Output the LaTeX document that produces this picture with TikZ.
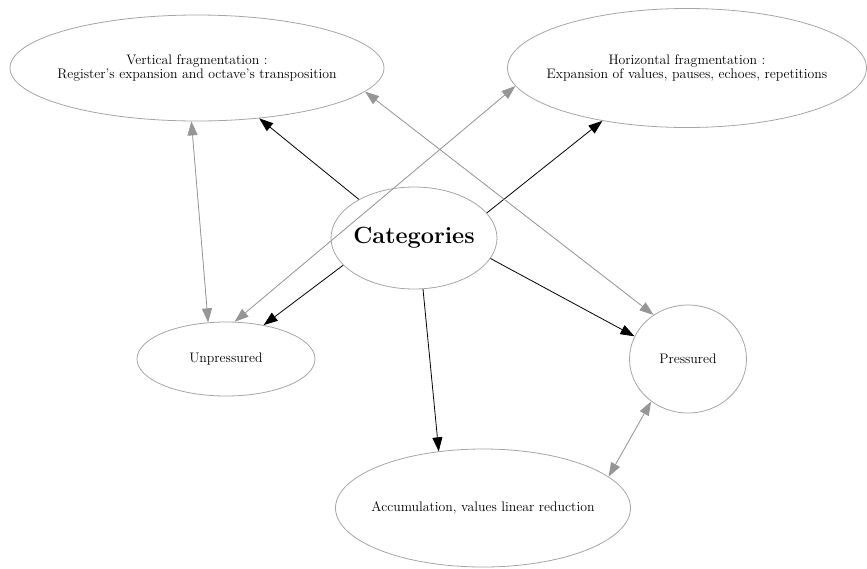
\documentclass[tikz,border=0pt]{standalone}
\usetikzlibrary{shapes.geometric,arrows.meta}
\definecolor{ringgray}{RGB}{165,165,165}
\definecolor{linkgray}{RGB}{150,150,150}
\begin{document}
\begin{tikzpicture}[x=1pt,y=-1pt,
  blob/.style={ellipse,draw=ringgray,line width=0.8pt,inner sep=0pt},
  txt/.style={align=center,inner sep=0pt,font=\fontsize{13.8}{14.5}\selectfont},
  mainarrow/.style={-{Triangle[length=14pt,width=10pt]},line width=0.8pt,black},
  twoway/.style={{Triangle[length=14pt,width=10pt]}-{Triangle[length=14pt,width=10pt]},line width=0.8pt,draw=linkgray,fill=linkgray}]
\useasboundingbox (0,0) rectangle (867,568);
\node[blob,minimum width=374pt,minimum height=106pt,
  label={[txt]center:Vertical fragmentation :\\Register's expansion and octave's transposition}] (vert) at (197,68) {};
\node[blob,minimum width=359pt,minimum height=119pt,
  label={[txt]center:Horizontal fragmentation :\\Expansion of values, pauses, echoes, repetitions}] (horiz) at (687,68) {};
\node[blob,minimum width=166pt,minimum height=102pt,
  label={[txt,font=\fontsize{23.5}{26}\selectfont\bfseries]center:Categories}] (cat) at (414,238) {};
\node[blob,minimum width=178pt,minimum height=74pt,
  label={[txt]center:Unpressured}] (unp) at (226,359) {};
\node[blob,minimum width=117pt,minimum height=108pt,
  label={[txt]center:Pressured}] (pres) at (688,359) {};
\node[blob,minimum width=295pt,minimum height=118pt,
  label={[txt]center:Accumulation, values linear reduction}] (acc) at (483,508) {};
% black arrows
\draw[mainarrow] (cat.145.9) -- (vert.-39.3);
\draw[mainarrow] (cat.19.5) -- (horiz.212.3);
\draw[mainarrow] (cat.201) -- (unp.42.7);
\draw[mainarrow] (cat.-15.6) -- (pres.157.4);
\draw[mainarrow] (cat.-80) -- (acc.128);
% gray two-way arrows
\draw[twoway] (vert.264.7) -- (unp.116.6);
\draw[twoway] (unp.77.5) -- (horiz.186.5);
\draw[twoway] (vert.-8.6) -- (pres.128.5);
\draw[twoway] (pres.229.4) -- (acc.14.1);
\end{tikzpicture}
\end{document}
